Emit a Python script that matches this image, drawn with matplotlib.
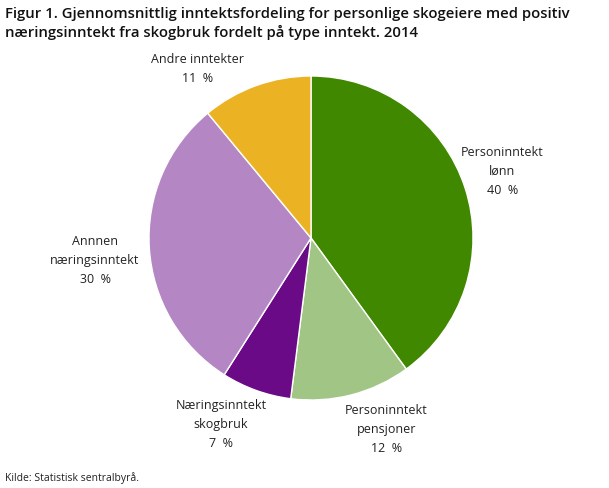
import matplotlib.pyplot as plt

labels = ['Personinntekt\nlønn', 'Personinntekt\npensjoner', 'Næringsinntekt\nskogbruk',
          'Annnen\nnæringsinntekt', 'Andre inntekter']
values = [40, 12, 7, 30, 11]
colors = ['#3f8800', '#a0c584', '#6a0a86', '#b487c4', '#ebb324']

# label centres, in units of the pie radius
label_pos = [(1.18, 0.41), (0.466, -1.185), (-0.556, -1.154), (-1.333, -0.136), (-0.70, 1.043)]

plt.rcParams['font.family'] = ['Open Sans', 'DejaVu Sans']

fig = plt.figure(figsize=(6.09, 4.88), dpi=100)
ax = fig.add_axes([(311 - 162) / 609, (488 - 400) / 488, 324 / 609, 324 / 488])

ax.pie(values, colors=colors, startangle=90, counterclock=False,
       wedgeprops=dict(edgecolor='white', linewidth=1))
for l, v, (x, y) in zip(labels, values, label_pos):
    ax.text(x, y, f'{l}\n{v}  %', ha='center', va='center', fontsize=9,
            color='#222222', linespacing=1.6)
ax.set_xlim(-1, 1)
ax.set_ylim(-1, 1)
ax.set_aspect('equal')

fig.text(5 / 609, 1 - 7 / 488, 'Figur 1. Gjennomsnittlig inntektsfordeling for personlige skogeiere med positiv\n'
         'næringsinntekt fra skogbruk fordelt på type inntekt. 2014',
         ha='left', va='top', fontsize=10.7, fontweight='semibold', color='#111111', linespacing=1.3)
fig.text(5 / 609, 1 - 478 / 488, 'Kilde: Statistisk sentralbyrå.', ha='left', va='center',
         fontsize=7.5, color='#222222')

fig.savefig('out.png', dpi=100)
